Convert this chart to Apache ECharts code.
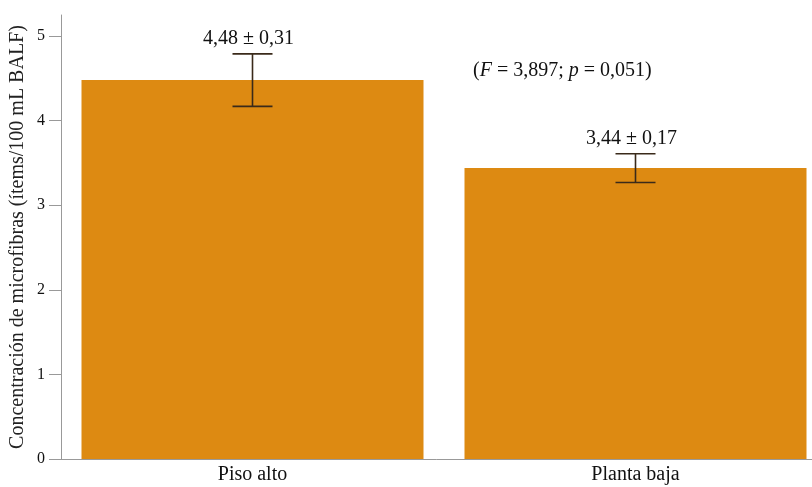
<!DOCTYPE html>
<html><head><meta charset="utf-8">
<script src="https://cdn.jsdelivr.net/npm/echarts@6/dist/echarts.min.js"></script>
<style>html,body{margin:0;padding:0;background:#fff}#c{width:812px;height:487px}</style>
</head><body><div id="c"></div>
<script>
const categories = ['Piso alto', 'Planta baja'];
const means = [4.48, 3.44];
const errors = [0.31, 0.17];
const meanLabels = ['4,48 ± 0,31', '3,44 ± 0,17'];
const yTicks = [0, 1, 2, 3, 4, 5];
const yTitle = 'Concentración de microfibras (ítems/100 mL BALF)';

const chart = echarts.init(document.getElementById('c'));
const serif = '"Liberation Serif", "DejaVu Serif", serif';
const errData = means.map((m, i) => [i, m - errors[i], m + errors[i], m]);

chart.setOption({
  animation: false,
  grid: { left: 61, top: 15, width: 766, bottom: 28, containLabel: false, outerBoundsMode: 'none' },
  xAxis: {
    type: 'category', data: categories,
    axisLine: { lineStyle: { color: '#999', width: 1 } },
    axisTick: { show: false },
    axisLabel: { color: '#111', fontFamily: serif, fontSize: 20, margin: 6 }
  },
  yAxis: {
    type: 'value', min: 0, max: 5.25,
    name: yTitle, nameLocation: 'middle', nameGap: 33, nameMoveOverlap: false,
    nameTextStyle: { color: '#222', fontFamily: serif, fontSize: 20 },
    axisLine: { show: true, lineStyle: { color: '#999', width: 1 } },
    axisTick: { show: true, length: 12, customValues: yTicks, lineStyle: { color: '#999' } },
    axisLabel: { customValues: yTicks, color: '#111', fontFamily: serif, fontSize: 16, margin: 16 },
    splitLine: { show: false }
  },
  series: [
    {
      type: 'bar', data: means, barWidth: 342,
      itemStyle: { color: '#DD8A12' }
    },
    {
      type: 'custom', data: errData,
      renderItem: function (params, api) {
        const x = api.value(0);
        const lo = api.coord([x, api.value(1)]);
        const hi = api.coord([x, api.value(2)]);
        const hw = 20;
        const st = { stroke: '#3a2a1a', lineWidth: 1.6 };
        const label = meanLabels[params.dataIndex];
        return {
          type: 'group',
          children: [
            { type: 'line', shape: { x1: hi[0], y1: hi[1], x2: lo[0], y2: lo[1] }, style: st },
            { type: 'line', shape: { x1: hi[0] - hw, y1: hi[1], x2: hi[0] + hw, y2: hi[1] }, style: st },
            { type: 'line', shape: { x1: lo[0] - hw, y1: lo[1], x2: lo[0] + hw, y2: lo[1] }, style: st },
            { type: 'text', x: hi[0] - 4, y: hi[1] - 5,
              style: { text: label, fontFamily: serif, fontSize: 20, fill: '#111', align: 'center', verticalAlign: 'bottom' } }
          ]
        };
      },
      z: 10
    }
  ],
  graphic: [
    {
      type: 'text', left: 473, top: 61,
      style: {
        text: '({f|F} = 3,897; {f|p} = 0,051)',
        fontFamily: serif, fontSize: 20, fill: '#111',
        rich: { f: { fontStyle: 'italic', fontFamily: serif, fontSize: 20 } }
      }
    }
  ]
});
</script></body></html>
